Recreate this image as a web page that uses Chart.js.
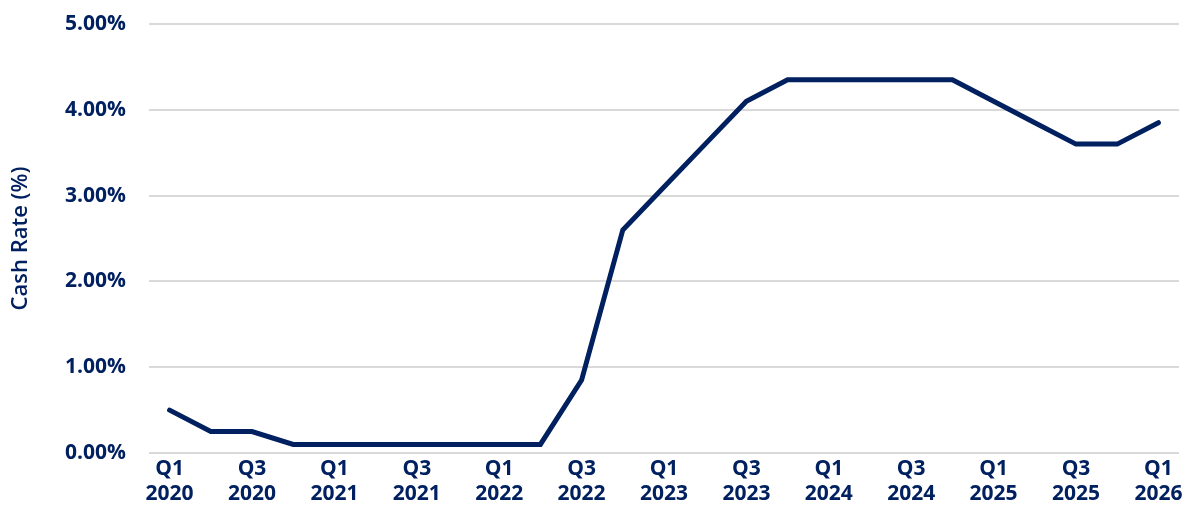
<!DOCTYPE html>
<html><head><meta charset="utf-8">
<script src="https://cdn.jsdelivr.net/npm/chart.js@4/dist/chart.umd.min.js"></script>
<style>html,body{margin:0;padding:0;background:#fff;}#wrap{width:1187px;height:523px;}</style>
</head><body><div id="wrap"><canvas id="c" width="1187" height="523"></canvas></div>
<script>
const quarters = ['Q1','Q2','Q3','Q4','Q1','Q2','Q3','Q4','Q1','Q2','Q3','Q4','Q1','Q2','Q3','Q4','Q1','Q2','Q3','Q4','Q1','Q2','Q3','Q4','Q1'];
const years = ['2020','2020','2020','2020','2021','2021','2021','2021','2022','2022','2022','2022','2023','2023','2023','2023','2024','2024','2024','2024','2025','2025','2025','2025','2026'];
const cashRate = [0.50,0.25,0.25,0.10,0.10,0.10,0.10,0.10,0.10,0.10,0.85,2.60,3.10,3.60,4.10,4.35,4.35,4.35,4.35,4.35,4.10,3.85,3.60,3.60,3.85];
const yTicks = [0,1,2,3,4,5];
const navy = '#002060';
const font = "'Open Sans', 'Lato', sans-serif";
const labels = quarters.map((q,i)=>[q, years[i]]);
new Chart(document.getElementById('c'), {
  type:'line',
  data:{labels:labels, datasets:[{data:cashRate, borderColor:navy, borderWidth:5, pointRadius:0, tension:0, borderJoinStyle:'miter', borderCapStyle:'round', fill:false}]},
  options:{
    responsive:false, animation:false,
    layout:{padding:{left:0,right:8,top:24,bottom:0}},
    plugins:{legend:{display:false}, tooltip:{enabled:false}},
    scales:{
      x:{offset:true, grid:{display:false, drawTicks:false}, border:{display:false},
        afterFit:function(s){s.height = 70;},
        ticks:{autoSkip:false, maxRotation:0, padding:3, color:navy, font:{family:font, size:21, weight:'bold', lineHeight:1.2},
          callback:function(v,i){return i%2===0 ? labels[i] : '';}}},
      y:{min:0, max:5, afterBuildTicks:function(ax){ax.ticks = yTicks.map(v=>({value:v}));},
        afterFit:function(s){s.width = 149; s.paddingTop = 0; s.paddingBottom = 0;},
        grid:{color:'#d9d9d9', lineWidth:2, drawTicks:false}, border:{display:false},
        ticks:{padding:23, color:navy, font:{family:font, size:21, weight:'bold'}, callback:v=>v.toFixed(2)+'%'},
        title:{display:true, text:'Cash Rate (%)', color:navy, font:{family:font, size:22, weight:'600'}, padding:{top:8,bottom:0}}}
    }
  }
});
</script></body></html>
